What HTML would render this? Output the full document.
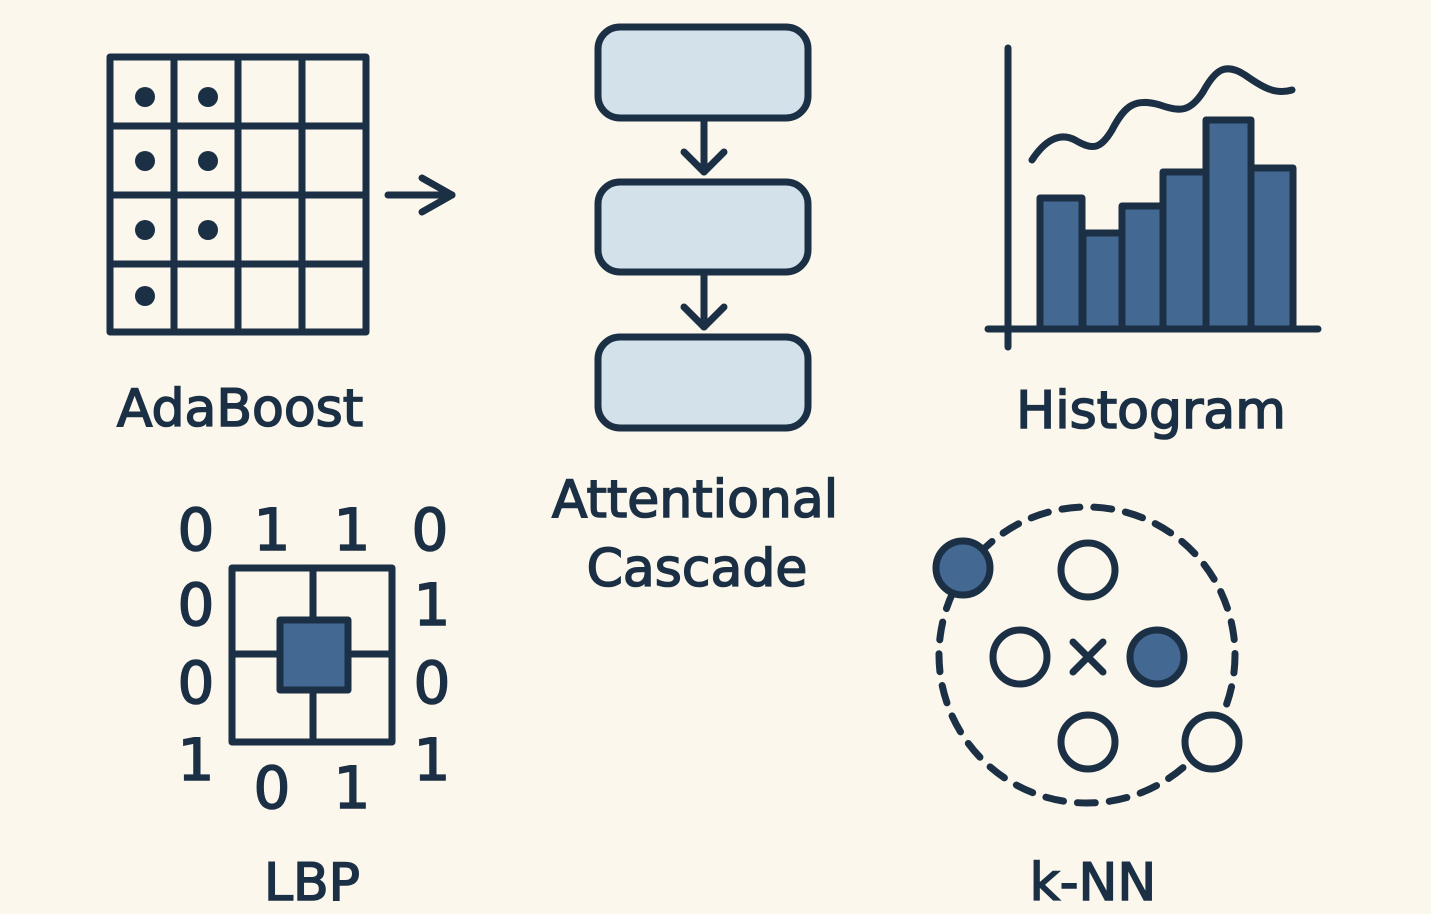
<!DOCTYPE html>
<html><head><style>
html,body{margin:0;padding:0;background:#fbf7ec;}
svg{display:block;}
text{font-family:"DejaVu Sans","Liberation Sans",sans-serif;fill:#1b2f45;stroke:#1b2f45;stroke-width:1.6;}
</style></head><body>
<svg width="1431" height="914" viewBox="0 0 1431 914">
<rect width="1431" height="914" fill="#fbf7ec"/>
<g stroke="#1b2f45" stroke-width="7" fill="none" stroke-linecap="round" stroke-linejoin="round">
<rect x="110" y="57" width="256" height="275"/>
<line x1="174" y1="57" x2="174" y2="332"/><line x1="238" y1="57" x2="238" y2="332"/><line x1="302" y1="57" x2="302" y2="332"/>
<line x1="110" y1="126" x2="366" y2="126"/><line x1="110" y1="195" x2="366" y2="195"/><line x1="110" y1="264" x2="366" y2="264"/>
<line x1="388" y1="195" x2="452" y2="195"/><polyline points="422,178 452,195 422,212"/>
<g fill="#d3e1eb">
<rect x="598" y="27" width="210" height="91" rx="22"/>
<rect x="598" y="182" width="210" height="90" rx="22"/>
<rect x="598" y="337" width="210" height="91" rx="22"/>
</g>
<line x1="704" y1="118" x2="704" y2="172"/><polyline points="684,152 704,172 724,152"/>
<line x1="704" y1="272" x2="704" y2="327"/><polyline points="684,307 704,327 724,307"/>
<line x1="1008" y1="48" x2="1008" y2="347"/><line x1="988" y1="329" x2="1318" y2="329"/>
<g fill="#436892">
<rect x="1040" y="198" width="42" height="131"/>
<rect x="1083" y="233" width="39" height="96"/>
<rect x="1122" y="206" width="41" height="123"/>
<rect x="1163" y="172" width="43" height="157"/>
<rect x="1206" y="120" width="45" height="209"/>
<rect x="1251" y="168" width="42" height="161"/>
</g>
<path d="M1032,160 C1045,140 1060,132 1075,140 C1092,150 1100,150 1112,130 C1125,105 1135,98 1160,105 C1180,112 1190,112 1203,92 C1215,70 1225,62 1245,75 C1262,87 1275,95 1292,90"/>
<rect x="232" y="568" width="160" height="174"/>
<line x1="313" y1="568" x2="313" y2="742"/><line x1="232" y1="654" x2="392" y2="654"/>
<rect x="280" y="620" width="68" height="70" fill="#436892"/>
<circle cx="1087" cy="655" r="148" stroke-dasharray="18 14"/>
<circle cx="963" cy="568" r="27" fill="#436892"/>
<circle cx="1157" cy="657" r="27" fill="#436892"/>
<circle cx="1088" cy="570" r="27" fill="#fbf7ec"/>
<circle cx="1020" cy="657" r="27" fill="#fbf7ec"/>
<circle cx="1088" cy="742" r="27" fill="#fbf7ec"/>
<circle cx="1212" cy="742" r="27" fill="#fbf7ec"/>
<line x1="1073" y1="642" x2="1103" y2="672"/><line x1="1103" y1="642" x2="1073" y2="672"/>
</g>
<g fill="#1b2f45">
<circle cx="145" cy="97" r="10"/><circle cx="208" cy="97" r="10"/>
<circle cx="145" cy="161" r="10"/><circle cx="208" cy="161" r="10"/>
<circle cx="145" cy="230" r="10"/><circle cx="208" cy="230" r="10"/>
<circle cx="145" cy="296" r="10"/>
</g>
<g font-size="52" text-anchor="middle">
<text x="240" y="426">AdaBoost</text>
<text x="695" y="517">Attentional</text>
<text x="697" y="586">Cascade</text>
<text x="1151" y="428">Histogram</text>
<text x="312" y="900">LBP</text>
<text x="1093" y="900">k-NN</text>
</g>
<g font-size="58" text-anchor="middle">
<text x="196" y="550">0</text><text x="272" y="550">1</text><text x="352" y="550">1</text><text x="430" y="550">0</text>
<text x="196" y="625">0</text><text x="196" y="703">0</text><text x="196" y="780">1</text>
<text x="432" y="625">1</text><text x="432" y="703">0</text><text x="432" y="780">1</text>
<text x="272" y="808">0</text><text x="352" y="808">1</text>
</g>
</svg>
</body></html>
